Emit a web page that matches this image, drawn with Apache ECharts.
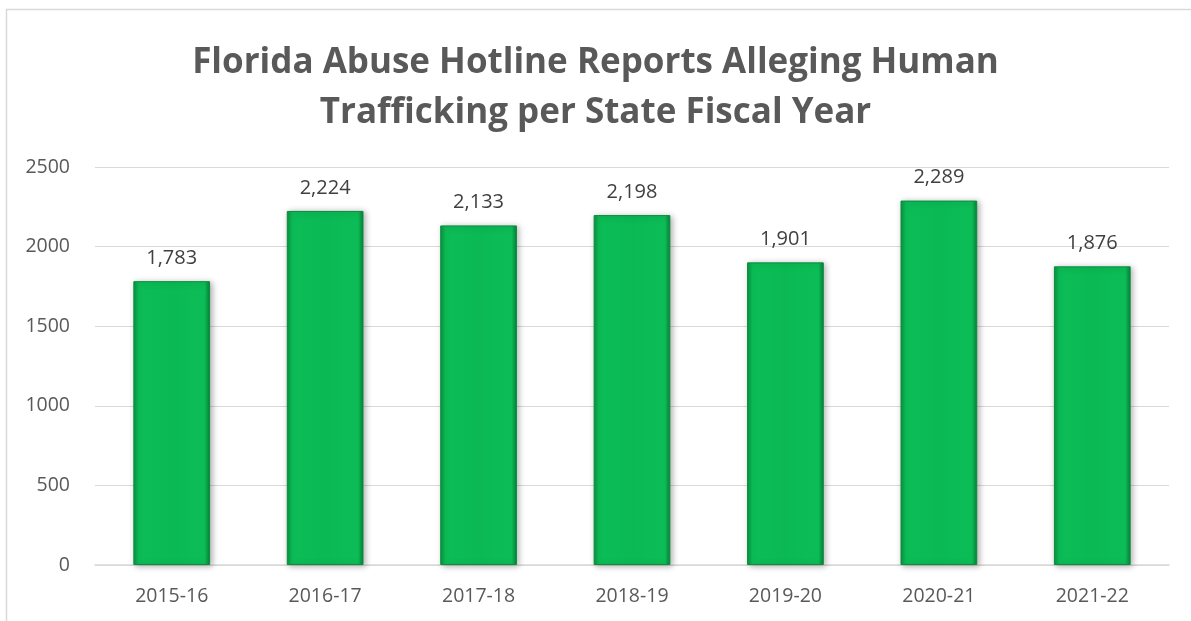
<!DOCTYPE html>
<html>
<head>
<meta charset="utf-8">
<script src="https://cdn.jsdelivr.net/npm/echarts@6/dist/echarts.min.js"></script>
<style>
  html, body { margin: 0; padding: 0; background: #fff; }
  #chart { width: 1191px; height: 621px; }
</style>
</head>
<body>
<div id="chart"></div>
<script>
const years = ["2015-16", "2016-17", "2017-18", "2018-19", "2019-20", "2020-21", "2021-22"];
const reports = [1783, 2224, 2133, 2198, 1901, 2289, 1876];
const yTicks = { min: 0, max: 2500, interval: 500 };

const chart = echarts.init(document.getElementById("chart"));
chart.setOption({
  animation: false,
  backgroundColor: "#fff",
  graphic: [{
    type: "rect",
    shape: { x: 6.5, y: 9.5, width: 1300, height: 800 },
    style: { fill: "none", stroke: "#d9d9d9", lineWidth: 1.5 },
    silent: true
  }],
  title: {
    text: "Florida Abuse Hotline Reports Alleging Human\nTrafficking per State Fiscal Year",
    left: "center",
    top: 33,
    textStyle: {
      fontFamily: "Open Sans",
      fontSize: 35,
      fontWeight: "bold",
      color: "#595959",
      lineHeight: 50
    }
  },
  grid: { left: 95, right: 22, top: 167, bottom: 56 },
  xAxis: {
    type: "category",
    data: years,
    axisTick: { show: false },
    axisLine: { lineStyle: { color: "#d9d9d9", width: 1.5 } },
    axisLabel: { color: "#595959", fontSize: 19.5, fontFamily: "Open Sans", margin: 21 }
  },
  yAxis: {
    type: "value",
    min: yTicks.min,
    max: yTicks.max,
    interval: yTicks.interval,
    axisLine: { show: false },
    axisTick: { show: false },
    splitLine: { lineStyle: { color: "#d9d9d9", width: 1.2 } },
    axisLabel: { color: "#595959", fontSize: 19.5, fontFamily: "Open Sans", margin: 25, formatter: v => String(v) }
  },
  series: [{
    type: "bar",
    data: reports,
    barWidth: "50%",
    itemStyle: {
      color: new echarts.graphic.LinearGradient(0, 0, 1, 0, [
        { offset: 0, color: "#08933f" },
        { offset: 0.07, color: "#0cbd57" },
        { offset: 0.5, color: "#0ab954" },
        { offset: 0.93, color: "#0cbd57" },
        { offset: 1, color: "#077f36" }
      ]),
      borderColor: "#0a8c3e",
      borderWidth: 1,
      shadowColor: "rgba(0,0,0,0.3)",
      shadowBlur: 6,
      shadowOffsetX: 2,
      shadowOffsetY: 1
    },
    label: {
      show: true,
      position: "top",
      distance: 13,
      color: "#404040",
      fontSize: 20,
      fontFamily: "Open Sans",
      formatter: p => p.value.toLocaleString("en-US")
    }
  }]
});
</script>
</body>
</html>
